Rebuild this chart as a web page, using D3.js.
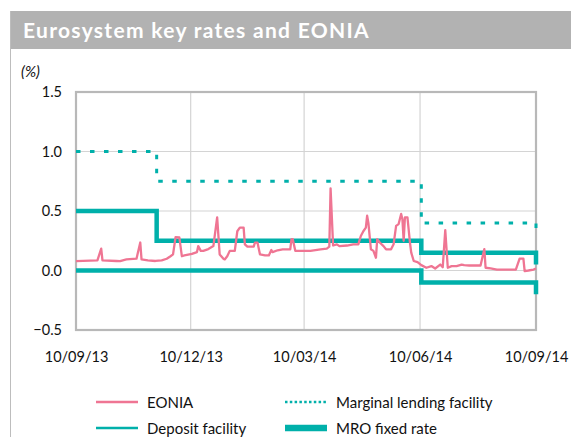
<!DOCTYPE html>
<html>
<head>
<meta charset="utf-8">
<script src="https://cdn.jsdelivr.net/npm/d3@7"></script>
<style>
  html, body { margin: 0; padding: 0; background: #fff; }
  svg { display: block; font-family: Lato, "Open Sans", sans-serif; }
</style>
</head>
<body>
<svg id="chart" width="571" height="437"></svg>
<script>
// Key ECB policy rates (%), each value valid from its date onwards
const rateDates = ["2013-09-10", "2013-11-13", "2014-06-11", "2014-09-10"];
const mroRate = [0.50, 0.25, 0.15, 0.05];
const depositRate = [0.00, 0.00, -0.10, -0.20];
const marginalRate = [1.00, 0.75, 0.40, 0.30];

// EONIA overnight rate (%)
const eoniaDates = [
  "2013-09-10","2013-09-27","2013-09-30","2013-10-01","2013-10-12","2013-10-15","2013-10-20","2013-10-28",
  "2013-10-31","2013-11-01","2013-11-06","2013-11-12","2013-11-17","2013-11-21","2013-11-24","2013-11-26",
  "2013-11-28","2013-12-01","2013-12-03","2013-12-05","2013-12-11","2013-12-15","2013-12-16","2013-12-18",
  "2013-12-20","2013-12-24","2013-12-28","2013-12-31","2014-01-02","2014-01-05","2014-01-06","2014-01-08",
  "2014-01-10","2014-01-14","2014-01-16","2014-01-18","2014-01-21","2014-01-22","2014-01-24","2014-01-29",
  "2014-01-30","2014-02-01","2014-02-03","2014-02-07","2014-02-10","2014-02-12","2014-02-13","2014-02-17",
  "2014-02-21","2014-02-27","2014-02-28","2014-03-01","2014-03-03","2014-03-07","2014-03-15","2014-03-23",
  "2014-03-28","2014-03-30","2014-03-31","2014-04-02","2014-04-05","2014-04-07","2014-04-13","2014-04-18",
  "2014-04-22","2014-04-24","2014-04-26","2014-04-28","2014-04-29","2014-04-30","2014-05-02","2014-05-04",
  "2014-05-06","2014-05-07","2014-05-09","2014-05-12","2014-05-14","2014-05-18","2014-05-20","2014-05-22",
  "2014-05-24","2014-05-26","2014-05-27","2014-05-28","2014-05-29","2014-05-31","2014-06-02","2014-06-03",
  "2014-06-05","2014-06-08","2014-06-11","2014-06-15","2014-06-19","2014-06-22","2014-06-26","2014-06-28",
  "2014-06-30","2014-07-02","2014-07-05","2014-07-09","2014-07-13","2014-07-15","2014-07-19","2014-07-28",
  "2014-07-31","2014-08-01","2014-08-05","2014-08-10","2014-08-25","2014-08-28","2014-08-31","2014-09-01",
  "2014-09-04","2014-09-08","2014-09-10"
];
const eoniaValues = [
  0.079, 0.085, 0.184, 0.085, 0.080, 0.079, 0.093, 0.099,
  0.235, 0.093, 0.085, 0.080, 0.085, 0.099, 0.120, 0.135,
  0.280, 0.278, 0.120, 0.127, 0.140, 0.155, 0.205, 0.165,
  0.165, 0.180, 0.205, 0.446, 0.135, 0.099, 0.093, 0.120,
  0.165, 0.165, 0.330, 0.360, 0.360, 0.220, 0.200, 0.200,
  0.235, 0.235, 0.135, 0.127, 0.127, 0.172, 0.155, 0.170,
  0.178, 0.178, 0.263, 0.263, 0.165, 0.165, 0.165, 0.178,
  0.184, 0.200, 0.690, 0.210, 0.220, 0.205, 0.210, 0.220,
  0.220, 0.290, 0.330, 0.360, 0.460, 0.400, 0.178, 0.165,
  0.107, 0.263, 0.235, 0.205, 0.178, 0.178, 0.220, 0.375,
  0.390, 0.475, 0.430, 0.250, 0.447, 0.447, 0.235, 0.150,
  0.080, 0.070, 0.045, 0.023, 0.037, 0.017, 0.050, 0.028,
  0.340, 0.023, 0.037, 0.037, 0.050, 0.045, 0.042, 0.042,
  0.180, 0.023, 0.017, 0.008, 0.008, 0.100, 0.100, -0.005,
  0.000, 0.008, 0.017
];

const yTicks = [1.5, 1.0, 0.5, 0.0, -0.5];
const xTickDates = ["2013-09-10", "2013-12-10", "2014-03-10", "2014-06-10", "2014-09-10"];

const titleText = "Eurosystem key rates and EONIA";
const unitText = "(%)";
const legendItems = [
  { key: "eonia", label: "EONIA" },
  { key: "marginal", label: "Marginal lending facility" },
  { key: "deposit", label: "Deposit facility" },
  { key: "mro", label: "MRO fixed rate" }
];

const TEAL = "#00b0aa";
const PINK = "#ef7593";

const parse = d3.utcParse("%Y-%m-%d");
const svg = d3.select("#chart");

// frame and title band
svg.append("rect").attr("x", 10).attr("y", 11).attr("width", 561).attr("height", 38)
  .attr("fill", "#b2b2b2");
svg.append("line").attr("x1", 10.5).attr("x2", 10.5).attr("y1", 11).attr("y2", 437)
  .attr("stroke", "#bdbdbd").attr("stroke-width", 1);
svg.append("text").attr("x", 23).attr("y", 38)
  .attr("fill", "#fff").attr("font-weight", "bold").attr("font-size", 21)
  .attr("letter-spacing", 1.3)
  .text(titleText);
svg.append("text").attr("x", 21).attr("y", 77)
  .attr("font-style", "italic").attr("font-size", 15).attr("fill", "#111")
  .text(unitText);

const plot = { left: 76, right: 536, top: 92, bottom: 330 };

const x = d3.scaleUtc()
  .domain([parse("2013-09-10"), parse("2014-09-10")])
  .range([plot.left, plot.right]);
const y = d3.scaleLinear()
  .domain([-0.5, 1.5])
  .range([plot.bottom, plot.top]);

// gridlines
const grid = svg.append("g").attr("stroke", "#d4d4d4").attr("stroke-width", 1.2);
grid.selectAll("line.h").data(yTicks.slice(1, -1)).join("line")
  .attr("x1", plot.left).attr("x2", plot.right)
  .attr("y1", d => y(d)).attr("y2", d => y(d));
grid.selectAll("line.v").data(xTickDates.slice(1, -1)).join("line")
  .attr("y1", plot.top).attr("y2", plot.bottom)
  .attr("x1", d => x(parse(d))).attr("x2", d => x(parse(d)));

// plot border
svg.append("rect")
  .attr("x", plot.left).attr("y", plot.top)
  .attr("width", plot.right - plot.left).attr("height", plot.bottom - plot.top)
  .attr("fill", "none").attr("stroke", "#b8b8b8").attr("stroke-width", 2.2);

// axes
const yAxis = d3.axisLeft(y).tickValues(yTicks).tickSize(0).tickPadding(14)
  .tickFormat(d3.format(".1f"));
svg.append("g").attr("transform", `translate(${plot.left},0)`).call(yAxis)
  .call(g => g.select(".domain").remove())
  .selectAll("text").attr("font-size", 14.5).attr("fill", "#111")
  .attr("font-family", "Lato, sans-serif");

const xAxis = d3.axisBottom(x).tickValues(xTickDates.map(parse)).tickSize(0).tickPadding(22)
  .tickFormat(d3.utcFormat("%d/%m/%y"));
svg.append("g").attr("transform", `translate(0,${plot.bottom})`).call(xAxis)
  .call(g => g.select(".domain").remove())
  .selectAll("text").attr("font-size", 14.5).attr("fill", "#111")
  .attr("font-family", "Lato, sans-serif");

// series
const rateData = key => rateDates.map((d, i) => ({ date: parse(d), value: key[i] }));
const stepLine = d3.line().x(d => x(d.date)).y(d => y(d.value)).curve(d3.curveStepAfter);

svg.append("path").datum(rateData(marginalRate))
  .attr("d", stepLine).attr("fill", "none")
  .attr("stroke", TEAL).attr("stroke-width", 3).attr("stroke-dasharray", "4.5,9.5");
svg.append("path").datum(rateData(depositRate))
  .attr("d", stepLine).attr("fill", "none")
  .attr("stroke", TEAL).attr("stroke-width", 4.5);
svg.append("path").datum(rateData(mroRate))
  .attr("d", stepLine).attr("fill", "none")
  .attr("stroke", TEAL).attr("stroke-width", 4.5);

const eonia = eoniaDates.map((d, i) => ({ date: parse(d), value: eoniaValues[i] }));
svg.append("path").datum(eonia)
  .attr("d", d3.line().x(d => x(d.date)).y(d => y(d.value)))
  .attr("fill", "none").attr("stroke", PINK).attr("stroke-width", 2.3)
  .attr("stroke-linejoin", "round");

// legend
const legendStyle = {
  eonia: { stroke: PINK, width: 2.5, dash: null },
  marginal: { stroke: TEAL, width: 2.5, dash: "2.5,2.3" },
  deposit: { stroke: TEAL, width: 2.5, dash: null },
  mro: { stroke: TEAL, width: 6.5, dash: null }
};
const legend = svg.append("g");
legendItems.forEach((item, i) => {
  const col = i % 2, row = Math.floor(i / 2);
  const lx = col === 0 ? 96 : 285;
  const ly = row === 0 ? 402 : 428;
  const s = legendStyle[item.key];
  legend.append("line").attr("x1", lx).attr("x2", lx + 42).attr("y1", ly).attr("y2", ly)
    .attr("stroke", s.stroke).attr("stroke-width", s.width)
    .attr("stroke-dasharray", s.dash);
  legend.append("text").attr("x", lx + 51).attr("y", ly + 5.5)
    .attr("font-size", 15).attr("fill", "#111").text(item.label);
});
</script>
</body>
</html>
